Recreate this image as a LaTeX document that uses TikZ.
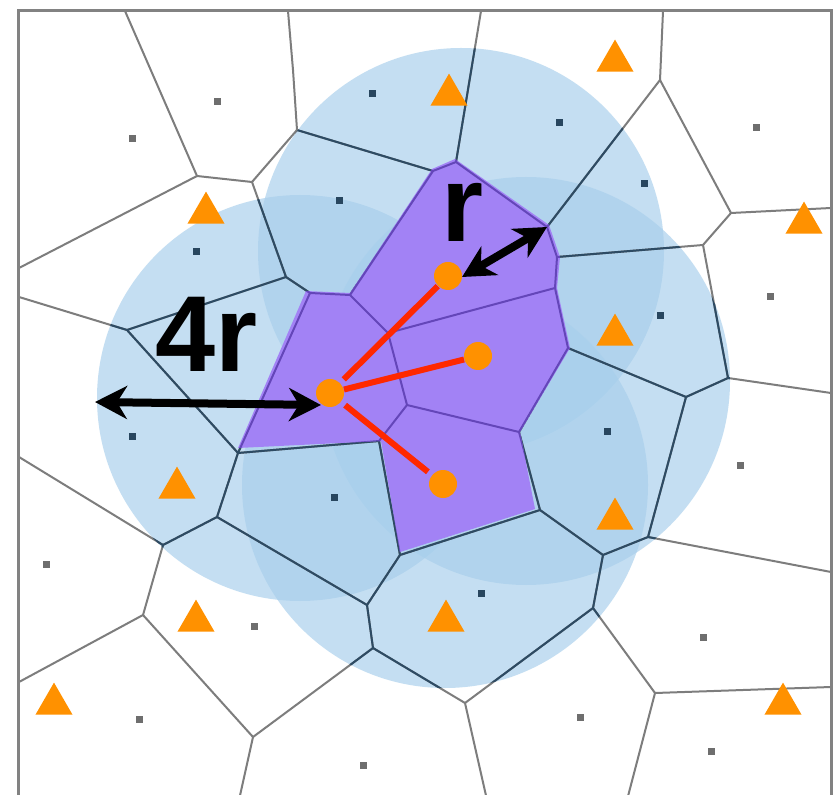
\documentclass[tikz,border=0pt]{standalone}
\usepackage{fontspec}
\setmainfont{Liberation Sans}
\usetikzlibrary{arrows.meta,shapes.geometric}
\definecolor{edgegray}{RGB}{125,125,125}
\definecolor{edgedark}{RGB}{45,75,100}
\definecolor{edgepurple}{RGB}{100,70,185}
\definecolor{circblue}{RGB}{168,207,236}
\definecolor{purp}{RGB}{162,130,245}
\definecolor{orng}{RGB}{255,145,0}
\definecolor{sqgray}{RGB}{110,110,110}
\definecolor{sqdark}{RGB}{40,70,95}
\definecolor{redline}{RGB}{255,40,0}
\definecolor{framegray}{RGB}{130,130,130}
\tikzset{
  vedge/.style={line width=1pt, line cap=round, line join=round},
  circlefill/.style={fill=circblue, fill opacity=0.67},
  sqg/.style={rectangle, fill=sqgray, minimum size=3.5pt, inner sep=0pt},
  sqd/.style={sqg, fill=sqdark},
  trinode/.style={regular polygon, regular polygon sides=3, fill=orng, inner sep=0pt, minimum size=21.4pt},
  dotnode/.style={circle, fill=orng, inner sep=0pt, minimum size=14pt},
  redl/.style={redline, line width=3pt},
  bigarrow/.style={line width=4pt, {Stealth[length=16pt, width=16.5pt, inset=5pt]}-{Stealth[length=16pt, width=16.5pt, inset=5pt]}},
  biglabel/.style={font=\fontsize{54}{54}\selectfont\bfseries, inner sep=0pt, anchor=base west}
}
\def\edgelist{tA/A,tB/tB2,tB2/B,A/C,A/lA,C/B,B/D2,C/Z,tD/D,D/D2,D2/Z3,D/E,tF/F,F/E,F/G,G/rG,G/H,H/I,H/J,E/I,I/M,M/V1,M/L,J/rJ,J/K,K/L,K/P2,L/N,N/V2,N/O,O/P,O/V4,P/P2,P2/rP2,P/Q,Q/R,Q/S,R/rR,R/bR,S/bS,S/W,W/X,W/V,V/bV,V/U,U/lU,U/T,T/lT,T/AB,AB/X,AB/AA,X/V4,V4/V3,V3/V2,V3/AA,V2/V1,V1/Z3,Z3/Z2,Z2/Z,Z2/AA,Z/Y,Y/lY,Y/AA}
\begin{document}
\begin{tikzpicture}[x=0.5pt,y=-0.5pt]
\useasboundingbox (0,0) rectangle (838,795);
\fill[white] (0,0) rectangle (838,795);
% Voronoi vertices
\coordinate (A) at (197,176);
\coordinate (B) at (297,130);
\coordinate (C) at (252,182);
\coordinate (D) at (456,162);
\coordinate (D2) at (433,171);
\coordinate (E) at (547,227);
\coordinate (F) at (660,80);
\coordinate (G) at (731,213);
\coordinate (H) at (703,245);
\coordinate (I) at (557,257);
\coordinate (J) at (728,378);
\coordinate (K) at (686,397);
\coordinate (L) at (568,348);
\coordinate (M) at (555,288);
\coordinate (N) at (519,432);
\coordinate (O) at (540,510);
\coordinate (P) at (603,555);
\coordinate (P2) at (648,537);
\coordinate (Q) at (593,608);
\coordinate (R) at (655,693);
\coordinate (S) at (465,703);
\coordinate (T) at (163,545);
\coordinate (U) at (143,615);
\coordinate (V) at (253,737);
\coordinate (W) at (373,648);
\coordinate (X) at (367,605);
\coordinate (Y) at (127,330);
\coordinate (Z) at (286,277);
\coordinate (Z2) at (310,293);
\coordinate (Z3) at (350,295);
\coordinate (V1) at (388,333);
\coordinate (V2) at (407,405);
\coordinate (V3) at (379,441);
\coordinate (V4) at (400,555);
\coordinate (AA) at (238,453);
\coordinate (AB) at (217,517);
% border ends
\coordinate (tA) at (125,11);
\coordinate (tB) at (288,11);
\coordinate (tB2) at (293,70);
\coordinate (tD) at (481,11);
\coordinate (tF) at (663,11);
\coordinate (lA) at (19,268);
\coordinate (lY) at (19,297);
\coordinate (lT) at (19,457);
\coordinate (lU) at (19,682);
\coordinate (bV) at (239,800);
\coordinate (bS) at (487,800);
\coordinate (bR) at (627,800);
\coordinate (rG) at (831,208);
\coordinate (rJ) at (831,393);
\coordinate (rP2) at (831,572);
\coordinate (rR) at (831,687);
% circle centres
\coordinate (c1) at (300,398);
\coordinate (c2) at (461,251);
\coordinate (c3) at (526,381);
\coordinate (c4) at (445,485);
% circles
\fill[circlefill] (c1) circle[radius=101.5pt];
\fill[circlefill] (c2) circle[radius=101.5pt];
\fill[circlefill] (c3) circle[radius=102pt];
\fill[circlefill] (c4) circle[radius=101.5pt];
% edges
\foreach \a/\b in \edgelist {\draw[vedge, edgegray] (\a) -- (\b);}
\begin{scope}
\clip (c1) circle[radius=101.5pt] (c2) circle[radius=101.5pt] (c3) circle[radius=102pt] (c4) circle[radius=101.5pt];
\foreach \a/\b in \edgelist {\draw[vedge, edgedark] (\a) -- (\b);}
\end{scope}
% purple region
\fill[purp] (306,291) -- (350,293) -- (432,169) -- (455,159) -- (549,225) -- (560,257) -- (557,288) -- (570,348) -- (520,432) -- (535,509) -- (400,552) -- (381,441) -- (238,448) -- cycle;
\begin{scope}
\clip (306,291) -- (350,293) -- (432,169) -- (455,159) -- (549,225) -- (560,257) -- (557,288) -- (570,348) -- (520,432) -- (535,509) -- (400,552) -- (381,441) -- (238,448) -- cycle;
\foreach \a/\b in \edgelist {\draw[vedge, edgepurple] (\a) -- (\b);}
\end{scope}
% sites
\node[sqg] (s1) at (217,102) {};
\node[sqg] (s2) at (132,139) {};
\node[sqd] (s3) at (372,94) {};
\node[sqd] (s4) at (339,201) {};
\node[sqd] (s5) at (196,252) {};
\node[sqd] (s6) at (559,123) {};
\node[sqg] (s7) at (756,128) {};
\node[sqd] (s8) at (644,184) {};
\node[sqd] (s9) at (132,436) {};
\node[sqd] (s10) at (334,497) {};
\node[sqg] (s11) at (770,297) {};
\node[sqd] (s12) at (660,316) {};
\node[sqd] (s13) at (607,431) {};
\node[sqg] (s14) at (740,465) {};
\node[sqg] (s15) at (46,564) {};
\node[sqg] (s16) at (254,626) {};
\node[sqg] (s17) at (139,719) {};
\node[sqg] (s18) at (363,765) {};
\node[sqd] (s19) at (481,593) {};
\node[sqg] (s20) at (703,637) {};
\node[sqg] (s21) at (580,717) {};
\node[sqg] (s22) at (711,751) {};
% triangles
\node[trinode] (t1) at (206,213) {};
\node[trinode] (t2) at (615,61) {};
\node[trinode] (t3) at (449,95) {};
\node[trinode] (t4) at (804,223) {};
\node[trinode] (t5) at (177,488) {};
\node[trinode] (t6) at (615,335) {};
\node[trinode] (t7) at (615,519) {};
\node[trinode] (t8) at (196,621) {};
\node[trinode] (t9) at (446,621) {};
\node[trinode] (t10) at (54,704) {};
\node[trinode] (t11) at (783,704) {};
% orange dots and red links
\node[dotnode] (d0) at (330,393) {};
\node[dotnode] (d1) at (448,276) {};
\node[dotnode] (d2) at (478,356) {};
\node[dotnode] (d3) at (443,484) {};
\draw[redl, shorten <=2.5pt] (d0) -- (d1);
\draw[redl] (d0) -- (d2);
\draw[redl, shorten <=2.5pt, shorten >=2.5pt] (d0) -- (d3);
% arrows
\coordinate (a4l) at (95,402);
\coordinate (a4r) at (321,405);
\coordinate (rs) at (462,277);
\draw[bigarrow] (a4l) -- (a4r);
\draw[bigarrow] (rs) -- (E);
% labels
\node[biglabel] (lab4r) at (155,372) {4r};
\node[biglabel] (labr) at (441,242) {r};
% frame
\draw[framegray, line width=1.5pt] (18,800) -- (18,11) -- (831,11) -- (831,800);
\end{tikzpicture}
\end{document}
